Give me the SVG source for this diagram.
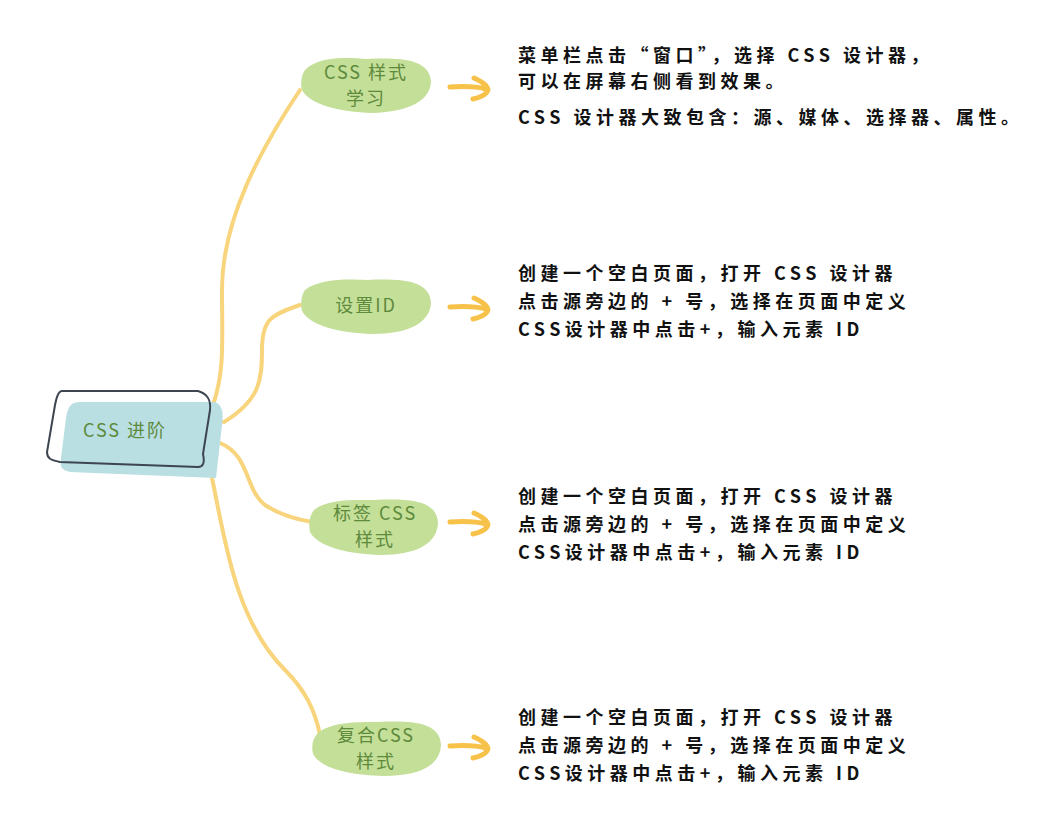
<svg xmlns="http://www.w3.org/2000/svg" width="1052" height="838" viewBox="0 0 1052 838">
<style>
.c{fill:none;stroke:#f8d57c;stroke-width:4;stroke-linecap:round}
.a{fill:none;stroke:#f7c24a;stroke-width:5;stroke-linecap:round;stroke-linejoin:round}
.b{fill:#c4df98}
.nt{font-family:"Noto Sans CJK SC",sans-serif;font-size:18px;fill:#5e8a3c;text-anchor:middle;letter-spacing:2px}
.t{font-family:"Noto Sans CJK SC",sans-serif;font-size:18px;font-weight:bold;fill:#111;letter-spacing:4.5px}
</style>
<rect width="1052" height="838" fill="#fff"/>
<g id="connectors">
<path class="c" d="M213,405 C225,370 222,340 222,290 C222,220 260,150 300,90"/>
<path class="c" d="M224,422 C260,400 262,380 262,350 C262,320 270,315 300,305"/>
<path class="c" d="M220,443 C250,455 245,490 265,505 C280,515 300,520 312,522"/>
<path class="c" d="M212,478 C225,540 235,620 285,670 C305,690 315,710 320,735"/>
<path class="a" d="M450,87 C465,86 475,86 486,89 M474,78 C485,83 490,88 487,92 C484,96 478,98 473,99"/>
<path class="a" d="M450,307 C465,306 475,306 486,309 M474,298 C485,303 490,308 487,312 C484,316 478,318 473,319"/>
<path class="a" d="M450,522 C465,521 475,521 486,524 M474,513 C485,518 490,523 487,527 C484,531 478,533 473,534"/>
<path class="a" d="M450,746 C465,745 475,745 486,748 M474,737 C485,742 490,747 487,751 C484,755 478,757 473,758"/>
</g>
<g id="root">
<path d="M80,402 L215,402 C222,405 224,412 222,425 L216,478 L70,472 C60,470 60,465 61,458 L66,418 C68,405 72,402 80,402 Z" fill="#b9dfe3"/>
<path d="M62,391 L198,391 C208,394 211,400 210,410 L203,454 C205,463 203,467 198,467 L60,462 C50,460 47,458 47,452 L55,405 C57,394 60,391 62,391 Z" fill="none" stroke="#3d4550" stroke-width="2"/>
<text class="nt" x="125" y="437">CSS 进阶</text>
</g>
<g id="n1">
<path class="b" d="M305,70 C320,55 350,58 367,59 C395,58 430,57 431,82 C430,100 410,112 372,113 C340,112 310,105 302,90 C300,82 302,74 305,70 Z"/>
<text class="nt" x="366" y="79">CSS 样式</text><text class="nt" x="366" y="105">学习</text>
</g>
<g id="n2">
<path class="b" d="M305,290 C320,278 350,279 367,280 C395,279 430,278 431,303 C430,322 410,334 372,334 C340,333 310,326 302,311 C300,302 302,294 305,290 Z"/>
<text class="nt" x="366" y="312">设置ID</text>
</g>
<g id="n3">
<path class="b" d="M314,510 C328,498 358,500 375,500 C403,499 437,498 438,523 C437,543 418,555 380,555 C348,554 318,547 310,532 C308,523 310,515 314,510 Z"/>
<text class="nt" x="375" y="520">标签 CSS</text><text class="nt" x="375" y="546">样式</text>
</g>
<g id="n4">
<path class="b" d="M318,733 C332,721 362,722 378,722 C406,721 440,720 441,745 C440,765 421,776 383,776 C351,775 321,769 313,754 C311,745 313,738 318,733 Z"/>
<text class="nt" x="376" y="742">复合CSS</text><text class="nt" x="376" y="768">样式</text>
</g>
<g id="notes">
<text class="t" x="518" y="62">菜单栏点击“窗口”，选择 CSS 设计器，</text>
<text class="t" x="518" y="88">可以在屏幕右侧看到效果。</text>
<text class="t" x="518" y="124">CSS 设计器大致包含：源、媒体、选择器、属性。</text>
<text class="t" x="518" y="280">创建一个空白页面，打开 CSS 设计器</text>
<text class="t" x="518" y="308">点击源旁边的 + 号，选择在页面中定义</text>
<text class="t" x="518" y="336">CSS设计器中点击+，输入元素 ID</text>
<text class="t" x="518" y="503">创建一个空白页面，打开 CSS 设计器</text>
<text class="t" x="518" y="531">点击源旁边的 + 号，选择在页面中定义</text>
<text class="t" x="518" y="559">CSS设计器中点击+，输入元素 ID</text>
<text class="t" x="518" y="724">创建一个空白页面，打开 CSS 设计器</text>
<text class="t" x="518" y="752">点击源旁边的 + 号，选择在页面中定义</text>
<text class="t" x="518" y="780">CSS设计器中点击+，输入元素 ID</text>
</g>
</svg>
